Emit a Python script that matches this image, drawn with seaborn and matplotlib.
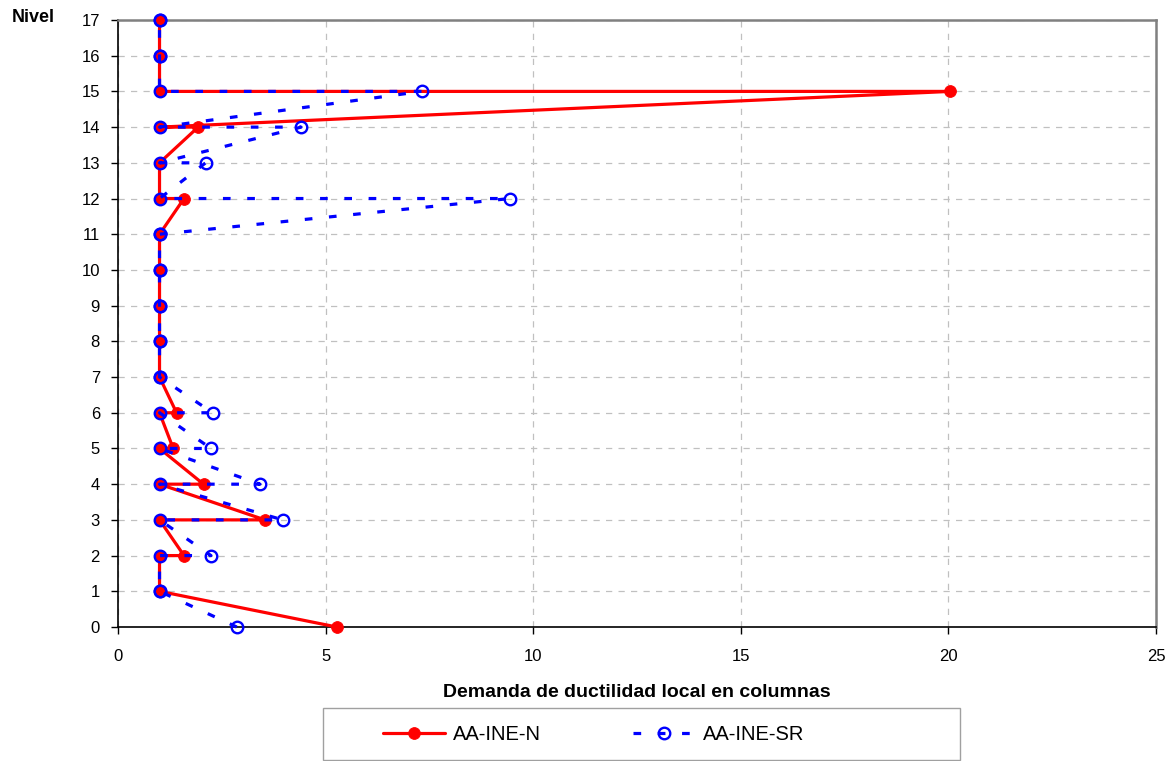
import matplotlib
matplotlib.use("Agg")
import matplotlib.pyplot as plt
from matplotlib.patches import Rectangle
import seaborn as sns
import pandas as pd

# ---- data ----
levels = list(range(18))
ductility_N = [5.27, 1, 1.59, 3.54, 2.06, 1.33, 1.41, 1, 1, 1, 1, 1,
               1.59, 1, 1.93, 20.04, 1, 1]
ductility_SR = [2.86, 1, 2.24, 3.97, 3.42, 2.24, 2.28, 1, 1, 1, 1, 1,
                9.44, 2.11, 4.41, 7.32, 1, 1]
base_value = 1.0
lower_last_level = 6          # below/at this level the path goes base -> value
series_names = ["AA-INE-N", "AA-INE-SR"]
x_ticks = [0, 5, 10, 15, 20, 25]
y_ticks = levels
x_label = "Demanda de ductilidad local en columnas"
y_label = "Nivel"


def build_path(vals):
    xs, ys = [vals[0]], [levels[0]]
    for lvl in levels[1:]:
        if lvl <= lower_last_level:
            pts = [(base_value, lvl), (vals[lvl], lvl)]
        else:
            pts = [(vals[lvl], lvl), (base_value, lvl)]
        for px, py in pts:
            xs.append(px)
            ys.append(py)
    return pd.DataFrame({"x": xs, "y": ys})


df_N = build_path(ductility_N)
df_SR = build_path(ductility_SR)

sns.set_style("white")
plt.rcParams["font.family"] = ["Liberation Sans", "DejaVu Sans"]
for key in ["text.color", "axes.labelcolor", "xtick.color", "ytick.color"]:
    plt.rcParams[key] = "black"

fig = plt.figure(figsize=(11.73, 7.61), dpi=100)
ax = fig.add_axes([118 / 1173, 1 - 627 / 761, (1156 - 118) / 1173, (627 - 20) / 761])

sns.lineplot(data=df_N, x="x", y="y", sort=False, estimator=None, ax=ax,
             color="#ff0000", linewidth=2.3, marker="o", markersize=8.5,
             markerfacecolor="#ff0000", markeredgecolor="#ff0000",
             markeredgewidth=0.6, label=series_names[0], zorder=3, clip_on=False)
sns.lineplot(data=df_SR, x="x", y="y", sort=False, estimator=None, ax=ax,
             color="#0000ff", linewidth=2.3, linestyle=(0, (2.4, 5.2)),
             marker="o", markersize=8.3, markerfacecolor="none",
             markeredgecolor="#0000ff", markeredgewidth=1.7,
             label=series_names[1], zorder=4, clip_on=False)

ax.set_xlim(0, 25)
ax.set_ylim(0, 17)
ax.set_xticks(x_ticks)
ax.set_yticks(y_ticks)
ax.set_xticklabels([str(t) for t in x_ticks], fontsize=12)
ax.set_yticklabels([str(t) for t in y_ticks], fontsize=12)
ax.tick_params(axis="both", direction="out", length=5, width=1, color="black",
               bottom=True, left=True)
ax.tick_params(axis="x", pad=11)
ax.tick_params(axis="y", pad=8)

ax.grid(True, color="#c0c0c0", linestyle=(0, (5, 5)), linewidth=0.9)
ax.set_axisbelow(True)
for side in ["left", "bottom"]:
    ax.spines[side].set_color("black")
    ax.spines[side].set_linewidth(1.2)
for side in ["top", "right"]:
    ax.spines[side].set_visible(True)
    ax.spines[side].set_color("#808080")
    ax.spines[side].set_linewidth(1.8)

ax.set_xlabel(x_label, fontsize=14, fontweight="bold", labelpad=14)
ax.set_ylabel("")
fig.text(12 / 1173, 1 - 17 / 761, y_label, fontsize=13, fontweight="bold",
         ha="left", va="center")

# legend box
fig.patches.append(Rectangle((323 / 1173, 1 - 760 / 761), (960 - 323) / 1173, 52 / 761,
                             transform=fig.transFigure, facecolor="white",
                             edgecolor="#a0a0a0", linewidth=1.0, zorder=0))
handles, labels = ax.get_legend_handles_labels()
ax.get_legend().remove()
entry_left_px = [383, 633]
for h, l, xpx in zip(handles, labels, entry_left_px):
    lg = fig.legend([h], [l], loc="center left",
                    bbox_to_anchor=(xpx / 1173, 1 - 735 / 761),
                    fontsize=14.5, frameon=False,
                    handlelength=3.1, handletextpad=0.35,
                    borderaxespad=0, borderpad=0)

fig.savefig("out.png", dpi=100)
